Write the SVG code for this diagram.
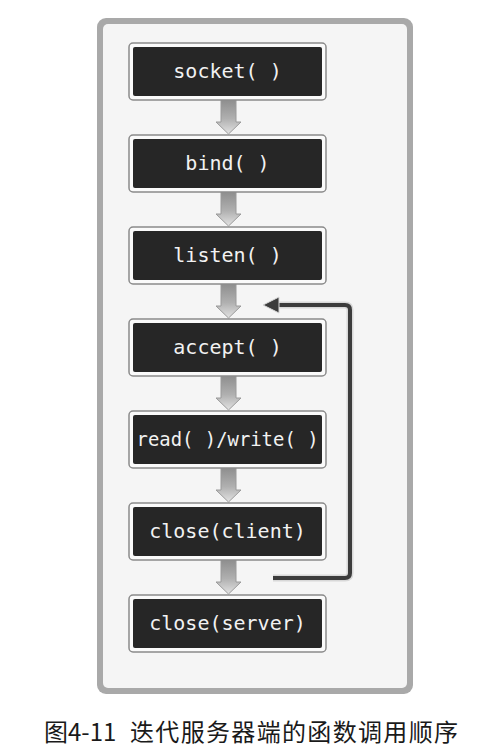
<svg xmlns="http://www.w3.org/2000/svg" width="483" height="752" viewBox="0 0 483 752">
<style>
.outer{fill:#a9a9a9}
.inner{fill:#f5f5f5}
.bx{fill:#fafafa;stroke:#8a8a8a;stroke-width:1.5}
.bk{fill:#262626}
.t{font-family:"DejaVu Sans Mono","Liberation Mono",monospace;font-size:20px;fill:#f2f2f2;text-anchor:middle}
.cap{font-family:"Noto Sans CJK SC",sans-serif;font-size:24px;fill:#1a1a1a}
.flow{fill:url(#ag);stroke:#9a9a9a;stroke-width:1}
</style>
<defs>
<linearGradient id="ag" x1="0" y1="0" x2="0" y2="1">
<stop offset="0" stop-color="#8e8e8e"/>
<stop offset="0.55" stop-color="#b0b0b0"/>
<stop offset="1" stop-color="#e2e2e2"/>
</linearGradient>
<path id="da" d="M221,0 H236 V22 H241 L228.5,34 L216,22 H221 Z"/>
</defs>
<rect class="outer" x="97" y="18" width="316" height="676" rx="9"/>
<rect class="inner" x="103" y="24" width="304" height="664" rx="5"/>

<g id="connectors">
<use href="#da" class="flow" y="100"/>
<use href="#da" class="flow" y="192"/>
<use href="#da" class="flow" y="284"/>
<use href="#da" class="flow" y="376"/>
<use href="#da" class="flow" y="468"/>
<use href="#da" class="flow" y="560"/>
<path d="M273,578 H345 Q350,578 350,573 V310 Q350,305 345,305 H276" fill="none" stroke="#d8d8d8" stroke-width="7"/>
<path d="M273,578 H345 Q350,578 350,573 V310 Q350,305 345,305 H276" fill="none" stroke="#3c3c3c" stroke-width="4"/>
<path d="M263,305 L279,297 L279,313 Z" fill="#3c3c3c" stroke="#d8d8d8" stroke-width="1"/>
</g>

<g id="n1"><rect class="bx" x="129" y="43" width="197" height="57" rx="4"/><rect class="bk" x="133" y="47" width="189" height="49" rx="2"/><text class="t" x="227.5" y="78">socket( )</text></g>
<g id="n2"><rect class="bx" x="129" y="135" width="197" height="57" rx="4"/><rect class="bk" x="133" y="139" width="189" height="49" rx="2"/><text class="t" x="227.5" y="170">bind( )</text></g>
<g id="n3"><rect class="bx" x="129" y="227" width="197" height="57" rx="4"/><rect class="bk" x="133" y="231" width="189" height="49" rx="2"/><text class="t" x="227.5" y="262">listen( )</text></g>
<g id="n4"><rect class="bx" x="129" y="319" width="197" height="57" rx="4"/><rect class="bk" x="133" y="323" width="189" height="49" rx="2"/><text class="t" x="227.5" y="354">accept( )</text></g>
<g id="n5"><rect class="bx" x="129" y="411" width="197" height="57" rx="4"/><rect class="bk" x="133" y="415" width="189" height="49" rx="2"/><text class="t" x="227.5" y="446" textLength="182" lengthAdjust="spacingAndGlyphs">read( )/write( )</text></g>
<g id="n6"><rect class="bx" x="129" y="503" width="197" height="57" rx="4"/><rect class="bk" x="133" y="507" width="189" height="49" rx="2"/><text class="t" x="227.5" y="538">close(client)</text></g>
<g id="n7"><rect class="bx" x="129" y="595" width="197" height="57" rx="4"/><rect class="bk" x="133" y="599" width="189" height="49" rx="2"/><text class="t" x="227.5" y="630">close(server)</text></g>

<text class="cap" x="44" y="741">图4-11</text>
<text class="cap" x="130" y="741" textLength="328">迭代服务器端的函数调用顺序</text>
</svg>
